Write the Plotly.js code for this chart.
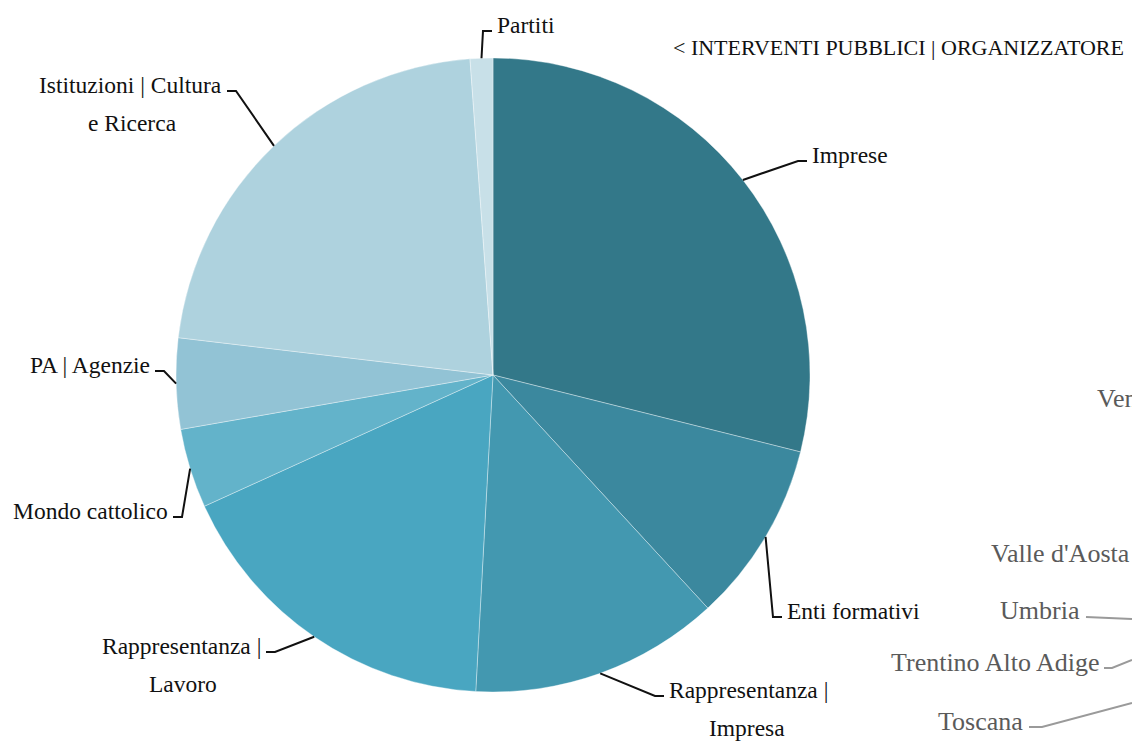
<!DOCTYPE html>
<html><head><meta charset="utf-8">
<script src="https://cdn.plot.ly/plotly-3.0.1.min.js"></script>
<style>html,body{margin:0;padding:0;overflow:hidden;background:#fff}#chart{width:1132px;height:741px}</style>
</head><body><div id="chart"></div>
<script>
// ---- data ----
const categories = ["Imprese","Enti formativi","Rappresentanza | Impresa","Rappresentanza | Lavoro","Mondo cattolico","PA | Agenzie","Istituzioni | Cultura e Ricerca","Partiti"];
const labelLines = [["Imprese"],["Enti formativi"],["Rappresentanza |","Impresa"],["Rappresentanza |","Lavoro"],["Mondo cattolico"],["PA | Agenzie"],["Istituzioni | Cultura","e Ricerca"],["Partiti"]];
const values = [50,16,22,30,7,8,38,2];
const colors = ["#337889","#3B889E","#4398B0","#49A6C1","#63B3CA","#92C3D5","#AED2DE","#C8E0E8"];
const chartTitle = "< INTERVENTI PUBBLICI | ORGANIZZATORE";
const otherLabels = ["Veneto","Valle d'Aosta","Umbria","Trentino Alto Adige","Toscana"];

// ---- layout constants (pixels) ----
const W = 1132, H = 741, CX = 493, CY = 375, R = 317;
const FONT = "Liberation Serif";
const LBL = 23.5, TTL = 22, OTH = 26;
// elbow point of each connector and side (1 = label on right, -1 = label on left)
const elbows = [[798,161,1],[773,617,1],[655,696,1],[275,652,-1],[182,517,-1],[164,371,-1],[236,91,-1],[483,31,1]];
// grey labels of the neighbouring chart: [anchorX, centerY, xanchor, connector path points]
const otherPos = [
  [1095,398,"left",null],
  [1132,553,"right",null],
  [1082,610,"right",[[1086,617],[1132,619]]],
  [1102,662,"right",[[1104,668],[1112,668],[1132,660]]],
  [1025,721,"right",[[1029,727],[1042,727],[1132,703]]]
];

const px = x => x / W, py = y => 1 - y / H;
const ctx = document.createElement("canvas").getContext("2d");
function textW(t, size){ ctx.font = size + "px '" + FONT + "'"; return ctx.measureText(t).width; }

const total = values.reduce((a,b)=>a+b,0);
const shapes = [], annotations = [];
let cum = 0;
values.forEach((v,i)=>{
  const th = 2*Math.PI*(cum + v/2)/total; cum += v;
  const ex = CX + R*Math.sin(th), ey = CY - R*Math.cos(th);
  const [bx, by, side] = elbows[i];
  const hx = bx + side*9;
  shapes.push({type:"path", xref:"paper", yref:"paper",
    path:`M ${px(ex)} ${py(ey)} L ${px(bx)} ${py(by)} L ${px(hx)} ${py(by)}`,
    line:{color:"#111", width:2}});
  const tx = hx + side*3, ty = by - 6;
  const lines = labelLines[i];
  annotations.push({xref:"paper", yref:"paper", x:px(tx), y:py(ty), text:lines[0], showarrow:false,
    xanchor: side>0 ? "left":"right", yanchor:"middle", font:{family:FONT, size:LBL, color:"#111"}});
  if (lines.length > 1){
    const w = textW(lines[0], LBL);
    annotations.push({xref:"paper", yref:"paper", x:px(tx + side*w/2), y:py(ty+38), text:lines[1], showarrow:false,
      xanchor:"center", yanchor:"middle", font:{family:FONT, size:LBL, color:"#111"}});
  }
});

annotations.push({xref:"paper", yref:"paper", x:px(1126), y:py(48), text:chartTitle, showarrow:false,
  xanchor:"right", yanchor:"middle", font:{family:FONT, size:TTL, color:"#111"}});

otherLabels.forEach((t,i)=>{
  const [ax, ay, xa, pts] = otherPos[i];
  annotations.push({xref:"paper", yref:"paper", x:px(ax), y:py(ay), text:t, showarrow:false,
    xanchor:xa, yanchor:"middle", font:{family:FONT, size:OTH, color:"#5a5a5a"}});
  if (pts){
    shapes.push({type:"path", xref:"paper", yref:"paper",
      path: pts.map((p,k)=>(k?"L ":"M ")+px(p[0])+" "+py(p[1])).join(" "),
      line:{color:"#9a9a9a", width:2}});
  }
});

const trace = {
  type:"pie", labels:categories, values:values, sort:false, direction:"clockwise", rotation:0,
  marker:{colors:colors, line:{color:"rgba(255,255,255,0.45)", width:0.8}},
  textinfo:"none", hoverinfo:"label+value+percent",
  domain:{x:[px(CX-R), px(CX+R)], y:[py(CY+R), py(CY-R)]}
};

Plotly.newPlot("chart", [trace], {
  width:W, height:H, margin:{l:0,r:0,t:0,b:0}, showlegend:false,
  paper_bgcolor:"#fff", plot_bgcolor:"#fff",
  font:{family:FONT, size:LBL, color:"#111"},
  shapes:shapes, annotations:annotations
}, {displayModeBar:false, staticPlot:false});
</script></body></html>
